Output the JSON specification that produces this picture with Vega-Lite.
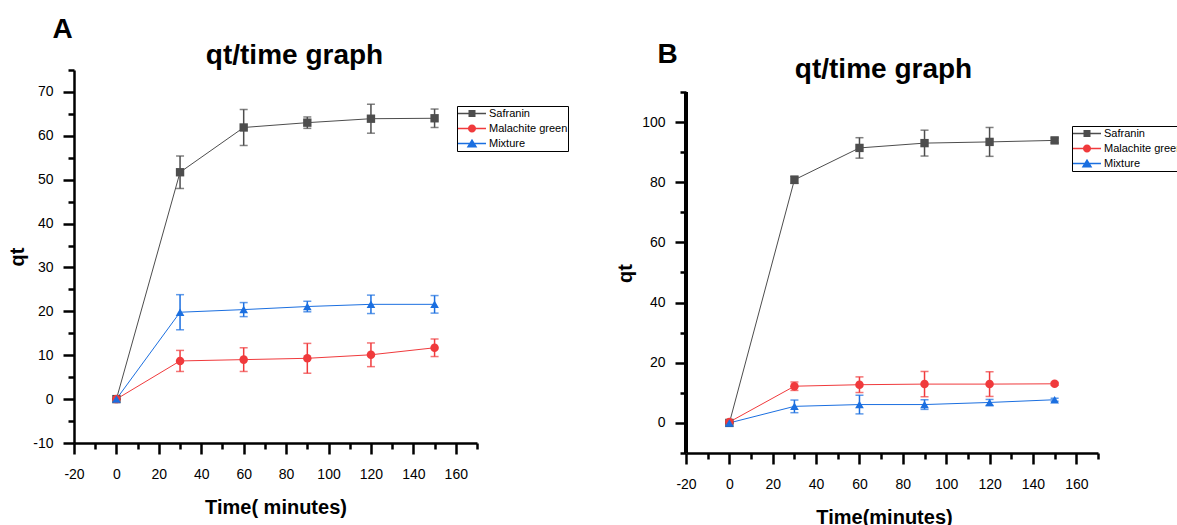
{
  "$schema": "https://vega.github.io/schema/vega-lite/v6.json",
  "background": "white",
  "padding": {"left": 7, "top": 15, "right": 0, "bottom": 0},
  "spacing": 46,
  "config": {
    "font": "Liberation Sans",
    "view": {"stroke": null},
    "axis": {"grid": false, "labelFont": "Liberation Sans", "labelFontSize": 14, "labelColor": "black", "titleFont": "Liberation Sans", "titleFontSize": 20, "titleFontWeight": "bold", "titleColor": "black", "domainColor": "black", "domainWidth": 2.5, "tickColor": "black", "tickWidth": 2.5, "tickSize": 11, "labelFlush": false, "labelOverlap": false, "labelExpr": "'' + datum.value"}
  },
  "datasets": {
    "a": [
      {"series": "Safranin", "t": 0, "qt": 0, "err": 0},
      {"series": "Safranin", "t": 30, "qt": 51.7, "err": 3.7},
      {"series": "Safranin", "t": 60, "qt": 61.9, "err": 4.1},
      {"series": "Safranin", "t": 90, "qt": 63.0, "err": 1.3},
      {"series": "Safranin", "t": 120, "qt": 63.9, "err": 3.3},
      {"series": "Safranin", "t": 150, "qt": 64.0, "err": 2.1},
      {"series": "Malachite green", "t": 0, "qt": 0, "err": 0},
      {"series": "Malachite green", "t": 30, "qt": 8.7, "err": 2.4},
      {"series": "Malachite green", "t": 60, "qt": 9.0, "err": 2.7},
      {"series": "Malachite green", "t": 90, "qt": 9.3, "err": 3.4},
      {"series": "Malachite green", "t": 120, "qt": 10.1, "err": 2.7},
      {"series": "Malachite green", "t": 150, "qt": 11.7, "err": 2.0},
      {"series": "Mixture", "t": 0, "qt": 0, "err": 0},
      {"series": "Mixture", "t": 30, "qt": 19.8, "err": 4.0},
      {"series": "Mixture", "t": 60, "qt": 20.4, "err": 1.6},
      {"series": "Mixture", "t": 90, "qt": 21.1, "err": 1.2},
      {"series": "Mixture", "t": 120, "qt": 21.6, "err": 2.1},
      {"series": "Mixture", "t": 150, "qt": 21.6, "err": 2.0}
    ],
    "b": [
      {"series": "Safranin", "t": 0, "qt": 0, "err": 0},
      {"series": "Safranin", "t": 30, "qt": 80.8, "err": 1.2},
      {"series": "Safranin", "t": 60, "qt": 91.4, "err": 3.4},
      {"series": "Safranin", "t": 90, "qt": 93.0, "err": 4.3},
      {"series": "Safranin", "t": 120, "qt": 93.4, "err": 4.8},
      {"series": "Safranin", "t": 150, "qt": 93.9, "err": 0.8},
      {"series": "Malachite green", "t": 0, "qt": 0.3, "err": 0},
      {"series": "Malachite green", "t": 30, "qt": 12.2, "err": 1.4},
      {"series": "Malachite green", "t": 60, "qt": 12.7, "err": 2.6},
      {"series": "Malachite green", "t": 90, "qt": 12.9, "err": 4.2},
      {"series": "Malachite green", "t": 120, "qt": 12.9, "err": 4.1},
      {"series": "Malachite green", "t": 150, "qt": 13.0, "err": 0.5},
      {"series": "Mixture", "t": 0, "qt": 0, "err": 0},
      {"series": "Mixture", "t": 30, "qt": 5.5, "err": 2.1},
      {"series": "Mixture", "t": 60, "qt": 6.1, "err": 3.1},
      {"series": "Mixture", "t": 90, "qt": 6.1, "err": 1.6},
      {"series": "Mixture", "t": 120, "qt": 6.8, "err": 1.0},
      {"series": "Mixture", "t": 150, "qt": 7.7, "err": 0.5}
    ]
  },
  "hconcat": [
    {
      "width": 403, "height": 373,
      "data": {"name": "a"},
      "layer": [
        {
          "mark": {"type": "line", "strokeWidth": 1},
          "encoding": {
            "x": {"field": "t", "type": "quantitative", "scale": {"domain": [-20, 170], "nice": false, "zero": false},
                  "axis": {"orient": "bottom", "values": [-20, 0, 20, 40, 60, 80, 100, 120, 140, 160], "title": "Time( minutes)", "labelPadding": 13, "titlePadding": 16}},
            "y": {"field": "qt", "type": "quantitative", "scale": {"domain": [-10, 75], "nice": false, "zero": false},
                  "axis": {"orient": "left", "values": [-10, 0, 10, 20, 30, 40, 50, 60, 70], "title": "qt", "labelPadding": 10, "titlePadding": 5}},
            "color": {"field": "series", "type": "nominal", "scale": {"domain": ["Safranin", "Malachite green", "Mixture"], "range": ["#4d4d4d", "#f03a3c", "#1b6fe0"]}, "legend": null}
          }
        },
        {
          "mark": {"type": "errorbar", "ticks": {"size": 8}, "thickness": 1.5},
          "encoding": {
            "x": {"field": "t", "type": "quantitative", "axis": null},
            "y": {"field": "qt", "type": "quantitative", "axis": null},
            "yError": {"field": "err"},
            "color": {"field": "series", "type": "nominal", "scale": {"domain": ["Safranin", "Malachite green", "Mixture"], "range": ["#4d4d4d", "#f03a3c", "#1b6fe0"]}, "legend": null}
          }
        },
        {
          "mark": {"type": "point", "filled": true, "opacity": 1},
          "encoding": {
            "x": {"field": "t", "type": "quantitative",
                  "axis": {"orient": "bottom", "values": [-10, 10, 30, 50, 70, 90, 110, 130, 150, 170], "labels": false, "domain": false, "tickSize": 6, "title": null}},
            "y": {"field": "qt", "type": "quantitative",
                  "axis": {"orient": "left", "values": [-5, 5, 15, 25, 35, 45, 55, 65, 75], "labels": false, "domain": false, "tickSize": 6, "title": null}},
            "color": {"field": "series", "type": "nominal", "scale": {"domain": ["Safranin", "Malachite green", "Mixture"], "range": ["#4d4d4d", "#f03a3c", "#1b6fe0"]}, "legend": null},
            "shape": {"field": "series", "type": "nominal", "scale": {"domain": ["Safranin", "Malachite green", "Mixture"], "range": ["square", "circle", "triangle-up"]}, "legend": null},
            "size": {"field": "series", "type": "nominal", "scale": {"domain": ["Safranin", "Malachite green", "Mixture"], "range": [70, 75, 100]}, "legend": null}
          }
        },
        {
          "transform": [{"filter": "datum.t < -100"}],
          "mark": {"type": "point", "filled": true, "size": 784},
          "encoding": {
            "x": {"field": "t", "type": "quantitative",
                  "axis": {"orient": "top", "title": "qt/time graph", "titleFontSize": 28, "titleX": 220, "titleY": -7, "titleAlign": "center", "titleBaseline": "alphabetic", "labels": false, "ticks": false, "domain": false}},
            "y": {"field": "qt", "type": "quantitative", "axis": null},
            "color": {"field": "series", "type": "nominal", "scale": {"domain": ["Safranin", "Malachite green", "Mixture"], "range": ["#4d4d4d", "#f03a3c", "#1b6fe0"]},
                     "legend": {"orient": "none", "legendX": 383, "legendY": 36, "title": null, "strokeColor": "black", "padding": 0, "clipHeight": 15, "rowPadding": 0, "symbolSize": 784, "symbolOffset": 1, "labelFontSize": 11, "labelOffset": 3, "labelColor": "black", "symbolStrokeWidth": 0, "symbolOpacity": 1, "labelFont": "Liberation Sans", "labelLimit": 300}},
            "shape": {"field": "series", "type": "nominal", "scale": {"domain": ["Safranin", "Malachite green", "Mixture"], "range": ["M-1,-0.045H1V0.045H-1ZM-0.25,-0.25H0.25V0.25H-0.25Z", "M-1,-0.045H1V0.045H-1ZM0.29,0A0.29,0.29,0,1,1,-0.29,0A0.29,0.29,0,1,1,0.29,0Z", "M-1,-0.045H1V0.045H-1ZM0,-0.34L0.38,0.28H-0.38Z"]},
                      "legend": {"orient": "none", "legendX": 383, "legendY": 36, "title": null, "strokeColor": "black", "padding": 0, "clipHeight": 15, "rowPadding": 0, "symbolSize": 784, "symbolOffset": 1, "labelFontSize": 11, "labelOffset": 3, "labelColor": "black", "symbolStrokeWidth": 0, "symbolOpacity": 1, "labelFont": "Liberation Sans", "labelLimit": 300}}
          }
        },
        {
          "transform": [{"filter": "datum.t < -100"}],
          "mark": {"type": "point"},
          "encoding": {
            "x": {"field": "t", "type": "quantitative",
                  "axis": {"orient": "top", "title": "A", "titleFontSize": 28, "titleX": -22, "titleY": -33, "titleAlign": "left", "titleBaseline": "alphabetic", "labels": false, "ticks": false, "domain": false}},
            "y": {"field": "qt", "type": "quantitative", "axis": null}
          }
        }
      ],
      "resolve": {"axis": {"x": "independent", "y": "independent"}, "scale": {"shape": "independent", "color": "independent", "size": "independent"}}
    },
    {
      "width": 412, "height": 383,
      "data": {"name": "b"},
      "layer": [
        {
          "mark": {"type": "rule", "strokeWidth": 2.5, "color": "black"},
          "encoding": {
            "x": {"datum": -20, "type": "quantitative", "axis": null},
            "y": {"datum": -10, "type": "quantitative", "axis": null},
            "y2": {"datum": 110}
          }
        },
        {
          "mark": {"type": "line", "strokeWidth": 1},
          "encoding": {
            "x": {"field": "t", "type": "quantitative", "scale": {"domain": [-20, 170], "nice": false, "zero": false},
                  "axis": {"orient": "bottom", "values": [-20, 0, 20, 40, 60, 80, 100, 120, 140, 160], "title": "Time(minutes)", "titleX": 198, "labelPadding": 13, "titlePadding": 16}},
            "y": {"field": "qt", "type": "quantitative", "scale": {"domain": [-10, 117.3], "nice": false, "zero": false},
                  "axis": {"orient": "left", "values": [0, 20, 40, 60, 80, 100], "title": "qt", "titleY": 203, "domain": false, "labelPadding": 10, "titlePadding": 6}},
            "color": {"field": "series", "type": "nominal", "scale": {"domain": ["Safranin", "Malachite green", "Mixture"], "range": ["#4d4d4d", "#f03a3c", "#1b6fe0"]}, "legend": null}
          }
        },
        {
          "mark": {"type": "errorbar", "ticks": {"size": 8}, "thickness": 1.5},
          "encoding": {
            "x": {"field": "t", "type": "quantitative", "axis": null},
            "y": {"field": "qt", "type": "quantitative", "axis": null},
            "yError": {"field": "err"},
            "color": {"field": "series", "type": "nominal", "scale": {"domain": ["Safranin", "Malachite green", "Mixture"], "range": ["#4d4d4d", "#f03a3c", "#1b6fe0"]}, "legend": null}
          }
        },
        {
          "mark": {"type": "point", "filled": true, "opacity": 1},
          "encoding": {
            "x": {"field": "t", "type": "quantitative",
                  "axis": {"orient": "bottom", "values": [-10, 10, 30, 50, 70, 90, 110, 130, 150, 170], "labels": false, "domain": false, "tickSize": 6, "title": null}},
            "y": {"field": "qt", "type": "quantitative",
                  "axis": {"orient": "left", "values": [-10, 10, 30, 50, 70, 90, 110], "labels": false, "domain": false, "tickSize": 6, "title": null}},
            "color": {"field": "series", "type": "nominal", "scale": {"domain": ["Safranin", "Malachite green", "Mixture"], "range": ["#4d4d4d", "#f03a3c", "#1b6fe0"]}, "legend": null},
            "shape": {"field": "series", "type": "nominal", "scale": {"domain": ["Safranin", "Malachite green", "Mixture"], "range": ["square", "circle", "triangle-up"]}, "legend": null},
            "size": {"field": "series", "type": "nominal", "scale": {"domain": ["Safranin", "Malachite green", "Mixture"], "range": [70, 75, 100]}, "legend": null}
          }
        },
        {
          "transform": [{"filter": "datum.t < -100"}],
          "mark": {"type": "point", "filled": true, "size": 784},
          "encoding": {
            "x": {"field": "t", "type": "quantitative",
                  "axis": {"orient": "top", "title": "qt/time graph", "titleFontSize": 28, "titleX": 197, "titleY": 7, "titleAlign": "center", "titleBaseline": "alphabetic", "labels": false, "ticks": false, "domain": false}},
            "y": {"field": "qt", "type": "quantitative", "axis": null},
            "color": {"field": "series", "type": "nominal", "scale": {"domain": ["Safranin", "Malachite green", "Mixture"], "range": ["#4d4d4d", "#f03a3c", "#1b6fe0"]},
                     "legend": {"orient": "none", "legendX": 386, "legendY": 56, "title": null, "strokeColor": "black", "padding": 0, "clipHeight": 15, "rowPadding": 0, "symbolSize": 784, "symbolOffset": 1, "labelFontSize": 11, "labelOffset": 3, "labelColor": "black", "symbolStrokeWidth": 0, "symbolOpacity": 1, "labelFont": "Liberation Sans", "labelLimit": 300}},
            "shape": {"field": "series", "type": "nominal", "scale": {"domain": ["Safranin", "Malachite green", "Mixture"], "range": ["M-1,-0.045H1V0.045H-1ZM-0.25,-0.25H0.25V0.25H-0.25Z", "M-1,-0.045H1V0.045H-1ZM0.29,0A0.29,0.29,0,1,1,-0.29,0A0.29,0.29,0,1,1,0.29,0Z", "M-1,-0.045H1V0.045H-1ZM0,-0.34L0.38,0.28H-0.38Z"]},
                      "legend": {"orient": "none", "legendX": 386, "legendY": 56, "title": null, "strokeColor": "black", "padding": 0, "clipHeight": 15, "rowPadding": 0, "symbolSize": 784, "symbolOffset": 1, "labelFontSize": 11, "labelOffset": 3, "labelColor": "black", "symbolStrokeWidth": 0, "symbolOpacity": 1, "labelFont": "Liberation Sans", "labelLimit": 300}}
          }
        },
        {
          "transform": [{"filter": "datum.t < -100"}],
          "mark": {"type": "point"},
          "encoding": {
            "x": {"field": "t", "type": "quantitative",
                  "axis": {"orient": "top", "title": "B", "titleFontSize": 28, "titleX": -29, "titleY": -8, "titleAlign": "left", "titleBaseline": "alphabetic", "labels": false, "ticks": false, "domain": false}},
            "y": {"field": "qt", "type": "quantitative", "axis": null}
          }
        }
      ],
      "resolve": {"axis": {"x": "independent", "y": "independent"}, "scale": {"shape": "independent", "color": "independent", "size": "independent"}}
    }
  ]
}
